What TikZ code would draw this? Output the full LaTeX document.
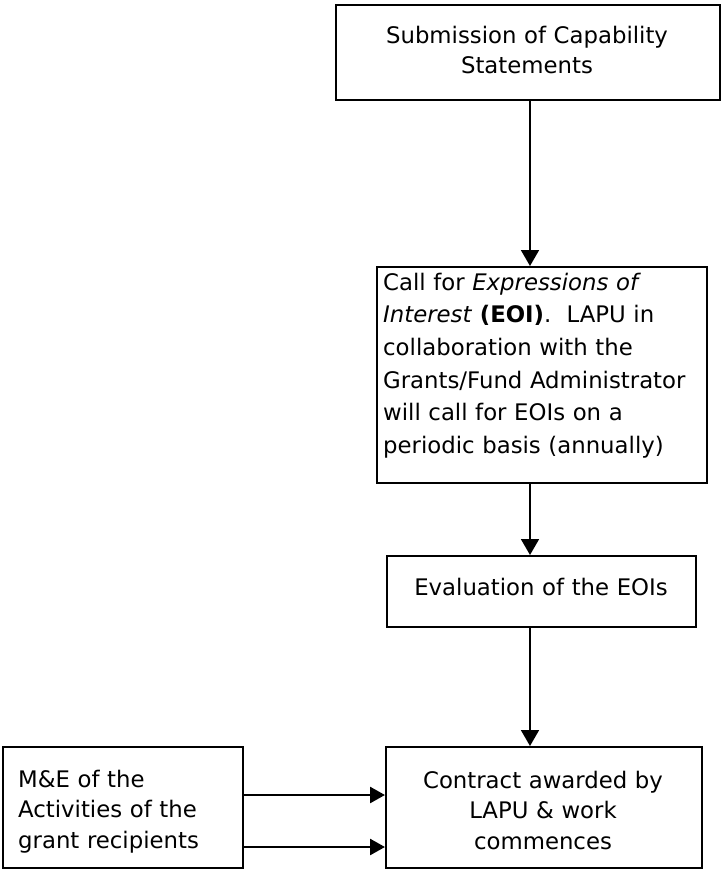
\documentclass[tikz,border=0pt]{standalone}
\usepackage{fontspec}
\setmainfont{DejaVu Sans}
\usetikzlibrary{arrows.meta}
\begin{document}
\begin{tikzpicture}[x=1bp,y=-1bp,
  box/.style={draw=black, line width=2bp, rectangle, inner sep=0pt, anchor=north west},
  txt/.style={inner sep=0pt, font=\fontsize{22.8bp}{32.7bp}\selectfont},
  flow/.style={-{Triangle[length=16bp,width=18bp]}, line width=1.8bp},
  side/.style={-{Triangle[length=15bp,width=16bp]}, line width=2.6bp}]
\useasboundingbox (0,0) rectangle (721,869);
% boxes
\node[box, minimum width=384bp, minimum height=95bp]  (b1) at (335,4) {};
\node[box, minimum width=330bp, minimum height=216bp] (b2) at (376,266) {};
\node[box, minimum width=309bp, minimum height=71bp]  (b3) at (386,555) {};
\node[box, minimum width=316bp, minimum height=121bp] (b4) at (385,746) {};
\node[box, minimum width=240bp, minimum height=121bp] (b5) at (2,746) {};
% texts
\node[txt, font=\fontsize{22.8bp}{30bp}\selectfont, text width=380bp, align=center, anchor=base] (t1) at (527,43)
  {Submission of Capability\\Statements};
\node[txt, text width=325bp, align=left, anchor=base west] (t2) at (383,290)
  {Call for \textit{Expressions of}\\\textit{Interest} \textbf{(EOI)}.\ \ LAPU in\\collaboration with the\\Grants/Fund Administrator\\will call for EOIs on a\\periodic basis (annually)};
\node[txt, text width=300bp, align=center, anchor=base] (t3) at (541,595)
  {Evaluation of the EOIs};
\node[txt, font=\fontsize{22.8bp}{30.5bp}\selectfont, text width=310bp, align=center, anchor=base] (t4) at (543,788)
  {Contract awarded by\\LAPU \& work\\commences};
\node[txt, font=\fontsize{22.8bp}{30.5bp}\selectfont, text width=230bp, align=left, anchor=base west] (t5) at (18,787)
  {M\&E of the\\Activities of the\\grant recipients};
% connectors
\coordinate (ax) at (530,0);
\coordinate (ya) at (0,795);
\coordinate (yb) at (0,847);
\draw[flow] (b1.south -| ax) -- (b2.north -| ax);
\draw[flow] (b2.south -| ax) -- (b3.north -| ax);
\draw[flow] (b3.south -| ax) -- (b4.north -| ax);
\draw[side] (b5.east |- ya) -- (b4.west |- ya);
\draw[side] (b5.east |- yb) -- (b4.west |- yb);
\end{tikzpicture}
\end{document}
